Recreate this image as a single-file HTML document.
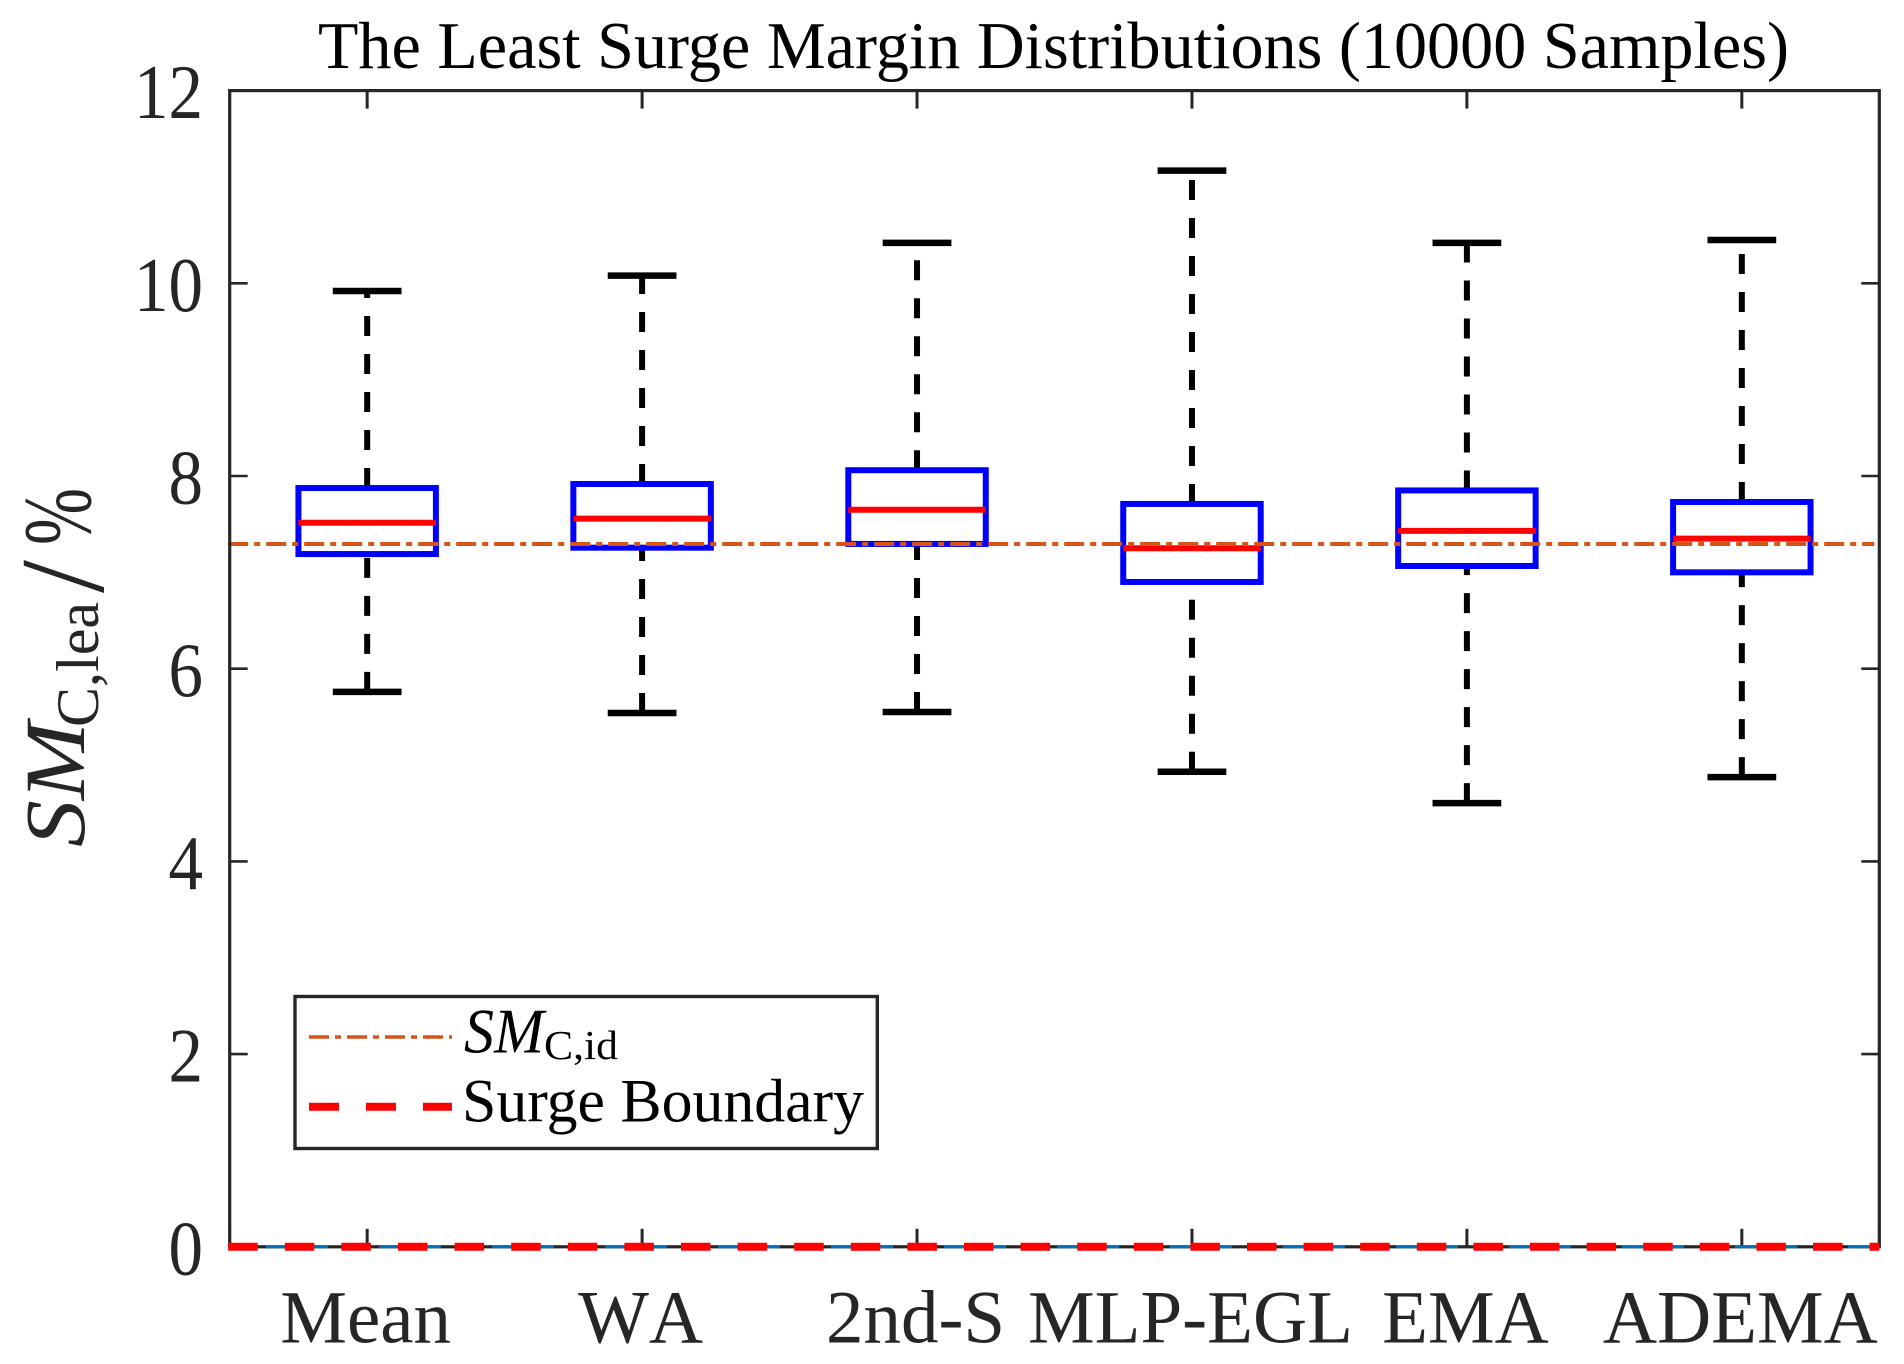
<!DOCTYPE html>
<html lang="en">
<head>
<meta charset="utf-8">
<title>The Least Surge Margin Distributions</title>
<style>
html,body{margin:0;padding:0;background:#fff;}
svg{display:block;}
text{font-family:"Liberation Serif",serif;}
</style>
</head>
<body>
<svg id="chart" xmlns="http://www.w3.org/2000/svg" width="1904" height="1364" viewBox="0 0 1904 1364">
  <rect x="0" y="0" width="1904" height="1364" fill="#fff"/>
  <text x="318" y="68" font-size="67" fill="#000" textLength="1471" lengthAdjust="spacingAndGlyphs">The Least Surge Margin Distributions (10000 Samples)</text>
  <g id="marks"></g>
  <g id="axes"></g>

  <g fill="#262626">
    <text transform="translate(84,847) rotate(-90)" font-size="86" font-style="italic" textLength="125" lengthAdjust="spacingAndGlyphs">SM</text>
    <text transform="translate(98,727) rotate(-90)" font-size="60" textLength="125" lengthAdjust="spacingAndGlyphs">C,lea</text>
    <text transform="translate(103,593) rotate(-90)" font-size="120" textLength="33" lengthAdjust="spacingAndGlyphs">/</text>
    <text transform="translate(90,545) rotate(-90)" font-size="98" textLength="57" lengthAdjust="spacingAndGlyphs">%</text>
  </g>

  <g>
    <rect x="295" y="996.5" width="582.3" height="152" fill="#fff" stroke="#262626" stroke-width="3.4"/>
    <line x1="309" y1="1037" x2="452" y2="1037" stroke="#D95319" stroke-width="3.4" stroke-dasharray="20 6 6 6"/>
    <text x="464" y="1052.7" font-size="63" font-style="italic" fill="#000" textLength="80" lengthAdjust="spacingAndGlyphs">SM</text>
    <text x="544" y="1059" font-size="41" fill="#000" textLength="74" lengthAdjust="spacingAndGlyphs">C,id</text>
    <line x1="309" y1="1106.7" x2="452" y2="1106.7" stroke="#ff0000" stroke-width="8" stroke-dasharray="30 27"/>
    <text x="462" y="1121.7" font-size="61" fill="#000" textLength="402" lengthAdjust="spacingAndGlyphs">Surge Boundary</text>
  </g>
</svg>
<script>
const categories = ['Mean', 'WA', '2nd-S', 'MLP-EGL', 'EMA', 'ADEMA'];
const whiskerHigh = [9.92, 10.08, 10.42, 11.17, 10.42, 10.45];
const upperQuartile = [7.875, 7.917, 8.06, 7.71, 7.85, 7.73];
const medians = [7.515, 7.557, 7.65, 7.25, 7.43, 7.35];
const lowerQuartile = [7.19, 7.256, 7.295, 6.90, 7.066, 7.0];
const whiskerLow = [5.76, 5.54, 5.55, 4.93, 4.605, 4.875];
const yTickValues = [0, 2, 4, 6, 8, 10, 12];
const idealMargin = 7.294;
const surgeBoundary = 0;

const plot = { left: 229.7, right: 1879.3, top: 90.6, bottom: 1246.8 };
const yMin = 0, yMax = 12, xMin = 0.5, xMax = 6.5;
function xScale(v) { return plot.left + (v - xMin) / (xMax - xMin) * (plot.right - plot.left); }
function yScale(v) { return plot.bottom - (v - yMin) / (yMax - yMin) * (plot.bottom - plot.top); }

const NS = 'http://www.w3.org/2000/svg';
function make(parent, tag, attrs, text) {
  const el = document.createElementNS(NS, tag);
  for (const k in attrs) el.setAttribute(k, attrs[k]);
  if (text !== undefined) el.textContent = text;
  parent.appendChild(el);
  return el;
}
const marks = document.getElementById('marks');
const axes = document.getElementById('axes');
const boxHalf = xScale(1.25) - xScale(1);
const capHalf = xScale(1.125) - xScale(1);
const axisColor = '#262626';

categories.forEach(function (name, i) {
  const cx = xScale(i + 1);
  const group = make(marks, 'g', {});
  
  

  const upper = make(group, 'line', { x1: cx, x2: cx, y1: yScale(upperQuartile[i]), y2: yScale(whiskerHigh[i]), stroke: '#000', 'stroke-width': 6, 'stroke-dasharray': '20 18' });
  
  

  const lower = make(group, 'line', { x1: cx, x2: cx, y1: yScale(whiskerLow[i]), y2: yScale(lowerQuartile[i]), stroke: '#000', 'stroke-width': 6, 'stroke-dasharray': '20 18' });
  
  

  const capTop = make(group, 'line', { x1: cx - capHalf, x2: cx + capHalf, y1: yScale(whiskerHigh[i]), y2: yScale(whiskerHigh[i]), stroke: '#000', 'stroke-width': 6.5 });
  
  

  const capBottom = make(group, 'line', { x1: cx - capHalf, x2: cx + capHalf, y1: yScale(whiskerLow[i]), y2: yScale(whiskerLow[i]), stroke: '#000', 'stroke-width': 6.5 });
  
  

  const box = make(group, 'rect', { x: cx - boxHalf, y: yScale(upperQuartile[i]), width: boxHalf * 2, height: yScale(lowerQuartile[i]) - yScale(upperQuartile[i]), fill: 'none', stroke: '#0000ff', 'stroke-width': 6 });
  
  

  const median = make(group, 'line', { x1: cx - boxHalf, x2: cx + boxHalf, y1: yScale(medians[i]), y2: yScale(medians[i]), stroke: '#ff0000', 'stroke-width': 6 });
  
  
});

const idealLine = make(marks, 'line', { x1: plot.left - 1.5, x2: plot.right - 5, y1: yScale(idealMargin), y2: yScale(idealMargin), stroke: '#D95319', 'stroke-width': 4, 'stroke-dasharray': '20 6 6 6' });



// axis frame
const frame = make(axes, 'rect', { x: plot.left, y: plot.top, width: plot.right - plot.left, height: plot.bottom - plot.top, fill: 'none', stroke: axisColor, 'stroke-width': 3.2 });



const tickLen = 18;
yTickValues.forEach(function (v) {
  const y = yScale(v);
  const left = make(axes, 'line', { x1: plot.left, x2: plot.left + tickLen, y1: y, y2: y, stroke: axisColor, 'stroke-width': 2.6 });
  
  
  const right = make(axes, 'line', { x1: plot.right - tickLen, x2: plot.right, y1: y, y2: y, stroke: axisColor, 'stroke-width': 2.6 });
  
  
  const str = String(v);
  const label = make(axes, 'text', { x: 203, y: y + 27.5, 'text-anchor': 'end', 'font-size': 77, fill: axisColor, textLength: str.length * 34.5, lengthAdjust: 'spacingAndGlyphs' }, str);
  
  
});

categories.forEach(function (name, i) {
  const x = xScale(i + 1);
  const bottom = make(axes, 'line', { x1: x, x2: x, y1: plot.bottom - tickLen, y2: plot.bottom, stroke: axisColor, 'stroke-width': 3 });
  
  
  const top = make(axes, 'line', { x1: x, x2: x, y1: plot.top, y2: plot.top + tickLen, stroke: axisColor, 'stroke-width': 3 });
  
  
  const label = make(axes, 'text', { x: x - 1.5, y: 1342.7, 'text-anchor': 'middle', 'font-size': 75, fill: axisColor, style: 'font-kerning:none' }, name);
  
  
});

// zero reference lines sit on top of the bottom axis
const zeroLine = make(axes, 'line', { x1: plot.left, x2: plot.right, y1: yScale(surgeBoundary), y2: yScale(surgeBoundary), stroke: '#0072BD', 'stroke-width': 3, 'stroke-dasharray': '62 51', 'stroke-dashoffset': 76.7 });



const surgeLine = make(axes, 'line', { x1: plot.left - 1.5, x2: plot.right, y1: yScale(surgeBoundary), y2: yScale(surgeBoundary), stroke: '#ff0000', 'stroke-width': 8, 'stroke-dasharray': '29.5 27.1' });


</script>
</body>
</html>
